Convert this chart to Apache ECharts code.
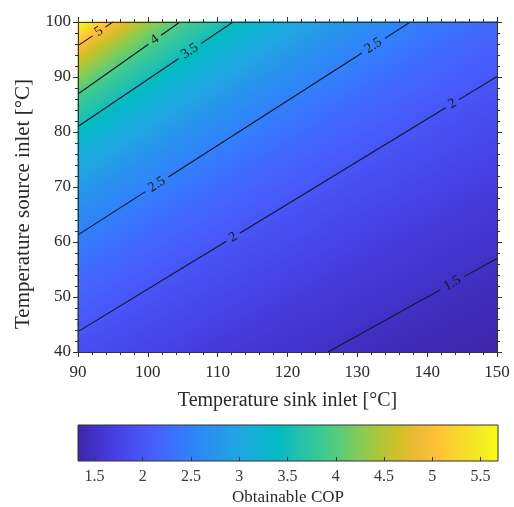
<!DOCTYPE html>
<html><head><meta charset="utf-8">
<script src="https://cdn.jsdelivr.net/npm/echarts@6/dist/echarts.min.js"></script>
<style>html,body{margin:0;padding:0;background:#fff}#c{width:514px;height:507px}</style>
</head><body><div id="c"></div>
<script>
// ---- data ----
const sinkTemps = [90, 95, 100, 105, 110, 115, 120, 125, 130, 135, 140, 145, 150];
const sourceTemps = [40, 45, 50, 55, 60, 65, 70, 75, 80, 85, 90, 95, 100];
// COP values, one row per source temperature (row 0 = 40 °C), columns = sink temperatures
const copGrid = [
  [1.90, 1.83, 1.76, 1.70, 1.64, 1.59, 1.55, 1.50, 1.47, 1.43, 1.39, 1.36, 1.33],
  [2.02, 1.93, 1.85, 1.79, 1.72, 1.67, 1.61, 1.57, 1.52, 1.48, 1.45, 1.41, 1.38],
  [2.14, 2.04, 1.96, 1.88, 1.81, 1.75, 1.69, 1.64, 1.59, 1.54, 1.50, 1.46, 1.43],
  [2.28, 2.17, 2.07, 1.98, 1.90, 1.83, 1.77, 1.71, 1.66, 1.61, 1.56, 1.52, 1.48],
  [2.45, 2.32, 2.20, 2.10, 2.01, 1.93, 1.86, 1.79, 1.73, 1.68, 1.63, 1.58, 1.54],
  [2.63, 2.48, 2.35, 2.23, 2.13, 2.04, 1.95, 1.88, 1.81, 1.75, 1.70, 1.65, 1.60],
  [2.85, 2.67, 2.51, 2.38, 2.26, 2.15, 2.06, 1.98, 1.90, 1.84, 1.77, 1.72, 1.67],
  [3.11, 2.89, 2.71, 2.55, 2.41, 2.29, 2.18, 2.09, 2.00, 1.93, 1.86, 1.80, 1.74],
  [3.42, 3.15, 2.93, 2.74, 2.58, 2.44, 2.32, 2.21, 2.11, 2.03, 1.95, 1.88, 1.82],
  [3.80, 3.47, 3.20, 2.97, 2.78, 2.61, 2.47, 2.35, 2.24, 2.14, 2.05, 1.97, 1.90],
  [4.27, 3.85, 3.51, 3.24, 3.01, 2.81, 2.65, 2.50, 2.38, 2.27, 2.17, 2.08, 2.00],
  [4.87, 4.33, 3.90, 3.56, 3.28, 3.05, 2.85, 2.68, 2.54, 2.41, 2.29, 2.19, 2.10],
  [5.68, 4.94, 4.39, 3.95, 3.61, 3.32, 3.09, 2.89, 2.72, 2.57, 2.44, 2.32, 2.22]
];
const cbTicks = [1.5, 2, 2.5, 3, 3.5, 4, 4.5, 5, 5.5];
// contour lines: level, start point, end point [sink, source], label positions (sink temp)
const contourLevels = [5, 4, 3.5, 2.5, 2, 1.5];
const contourStart = [[90, 95.7], [90, 86.9], [90, 81.0], [90, 61.3], [90, 43.7], [125.8, 40]];
const contourEnd = [[95, 100], [104.6, 100], [112.2, 100], [137.6, 100], [150, 90.1], [150, 57.0]];
const contourLabelX = [[93.0], [101.0], [106.0], [101.3, 132.3], [112.2, 143.6], [143.6]];

// ---- styling ----
const PARULA = ['#3e26a8','#4332cb','#4741e5','#4852f4','#4563fd','#3875fe','#2e87f7','#2796eb',
  '#20a5e3','#12b1d6','#02bac3','#24c1ae','#37c897','#57cc7a','#81cc59','#abc739','#d1bf27',
  '#f0ba36','#fec338','#fad62d','#f3e924','#f9fb15'];
const SERIF = '"Times New Roman","Liberation Serif",serif';
const TXT = '#2a2a2a';
const AXC = '#333';

const flat = copGrid.reduce((a, r) => a.concat(r), []);
const copMin = Math.min.apply(null, flat);
const copMax = Math.max.apply(null, flat);

const PRGB = PARULA.map(h => [parseInt(h.slice(1,3),16), parseInt(h.slice(3,5),16), parseInt(h.slice(5,7),16)]);
function cmap(v) {
  let t = (v - copMin) / (copMax - copMin);
  t = Math.max(0, Math.min(1, t));
  const f = t * (PRGB.length - 1);
  const i = Math.min(Math.floor(f), PRGB.length - 2);
  const r = f - i, a = PRGB[i], b = PRGB[i + 1];
  return 'rgb(' + [0,1,2].map(k => Math.round(a[k] + (b[k] - a[k]) * r)).join(',') + ')';
}

const cells = [];
for (let j = 0; j < sourceTemps.length - 1; j++) {
  for (let i = 0; i < sinkTemps.length - 1; i++) {
    cells.push([sinkTemps[i], sourceTemps[j], sinkTemps[i + 1], sourceTemps[j + 1],
      copGrid[j][i], copGrid[j][i + 1], copGrid[j + 1][i], copGrid[j + 1][i + 1]]);
  }
}

function triShape(P, V) {
  const dx1 = P[1][0] - P[0][0], dy1 = P[1][1] - P[0][1];
  const dx2 = P[2][0] - P[0][0], dy2 = P[2][1] - P[0][1];
  const dv1 = V[1] - V[0], dv2 = V[2] - V[0];
  const det = dx1 * dy2 - dx2 * dy1;
  const b = (dv1 * dy2 - dv2 * dy1) / det;
  const c = (dx1 * dv2 - dx2 * dv1) / det;
  const g = Math.hypot(b, c);
  let fill;
  if (!isFinite(g) || g < 1e-9) {
    fill = cmap(V[0]);
  } else {
    const nx = b / g, ny = c / g;
    const ts = P.map(p => (p[0] - P[0][0]) * nx + (p[1] - P[0][1]) * ny);
    const tmin = Math.min.apply(null, ts), tmax = Math.max.apply(null, ts);
    const N = 10, stops = [];
    for (let k = 0; k <= N; k++) {
      const t = tmin + (tmax - tmin) * k / N;
      stops.push({ offset: k / N, color: cmap(V[0] + g * t) });
    }
    fill = new echarts.graphic.LinearGradient(
      P[0][0] + nx * tmin, P[0][1] + ny * tmin, P[0][0] + nx * tmax, P[0][1] + ny * tmax, stops, true);
  }
  return { type: 'polygon', shape: { points: P }, style: { fill: fill, stroke: fill, lineWidth: 1.4, lineJoin: 'round' } };
}

const chart = echarts.init(document.getElementById('c'), null, { renderer: 'canvas' });

const axisCommon = {
  type: 'value', gridIndex: 0, z: 10,
  axisLine: { show: true, lineStyle: { color: AXC, width: 1 } },
  axisTick: { show: true, length: 5, lineStyle: { color: AXC } },
  minorTick: { show: true, splitNumber: 5, length: 3, lineStyle: { color: AXC } },
  splitLine: { show: false }, minorSplitLine: { show: false }
};

chart.setOption({
  animation: false,
  backgroundColor: '#fff',
  grid: [
    { left: 78, right: 17, top: 22, bottom: 155 },
    { left: 78, right: 16, top: 425, height: 37 }
  ],
  xAxis: [
    Object.assign({}, axisCommon, {
      position: 'bottom', min: 90, max: 150, interval: 10,
      axisLabel: { color: TXT, fontFamily: SERIF, fontSize: 17, margin: 12 },
      name: 'Temperature sink inlet [°C]', nameLocation: 'middle', nameGap: 39,
      nameTextStyle: { color: TXT, fontFamily: SERIF, fontSize: 20 }
    }),
    Object.assign({}, axisCommon, {
      position: 'top', min: 90, max: 150, interval: 10, axisLabel: { show: false }
    }),
    {
      type: 'value', gridIndex: 1, min: copMin, max: copMax, z: 10,
      axisLine: { show: false },
      axisTick: { show: true, inside: true, length: 4, customValues: cbTicks, lineStyle: { color: AXC } },
      axisLabel: { show: true, customValues: cbTicks, color: '#3a3a3a', fontFamily: SERIF, fontSize: 16, margin: 8 },
      splitLine: { show: false },
      name: 'Obtainable COP', nameLocation: 'middle', nameGap: 28,
      nameTextStyle: { color: TXT, fontFamily: SERIF, fontSize: 17 }
    }
  ],
  yAxis: [
    Object.assign({}, axisCommon, {
      position: 'left', min: 40, max: 100, interval: 10,
      axisLabel: { color: TXT, fontFamily: SERIF, fontSize: 17, margin: 7 },
      name: 'Temperature source inlet [°C]', nameLocation: 'middle', nameGap: 44,
      nameTextStyle: { color: TXT, fontFamily: SERIF, fontSize: 21, padding: [0, 34, 0, 0] }
    }),
    Object.assign({}, axisCommon, {
      position: 'right', min: 40, max: 100, interval: 10, axisLabel: { show: false }
    }),
    { type: 'value', gridIndex: 1, min: 0, max: 1, show: false }
  ],
  series: [
    {
      type: 'custom', xAxisIndex: 0, yAxisIndex: 0, z: 2,
      data: cells, encode: { x: [0, 2], y: [1, 3] },
      renderItem: function (params, api) {
        const p00 = api.coord([api.value(0), api.value(1)]);
        const p10 = api.coord([api.value(2), api.value(1)]);
        const p01 = api.coord([api.value(0), api.value(3)]);
        const p11 = api.coord([api.value(2), api.value(3)]);
        const v00 = api.value(4), v10 = api.value(5), v01 = api.value(6), v11 = api.value(7);
        return { type: 'group', children: [
          triShape([p00, p10, p11], [v00, v10, v11]),
          triShape([p00, p11, p01], [v00, v11, v01])
        ] };
      }
    },
    {
      type: 'custom', xAxisIndex: 0, yAxisIndex: 0, z: 4,
      data: contourStart.map((p, i) => [p[0], p[1], contourLevels[i]]),
      encode: { x: 0, y: 1 },
      renderItem: function (params, api) {
        const i = params.dataIndex;
        const s = contourStart[i], e = contourEnd[i];
        const p0 = api.coord(s), p1 = api.coord(e);
        const L = Math.hypot(p1[0] - p0[0], p1[1] - p0[1]);
        const ux = (p1[0] - p0[0]) / L, uy = (p1[1] - p0[1]) / L;
        const label = String(contourLevels[i]);
        const half = label.replace('.', '').length * 3.8 + (label.indexOf('.') >= 0 ? 2 : 0) + 4;
        const ang = Math.atan2(-(p1[1] - p0[1]), p1[0] - p0[0]);
        const ts = contourLabelX[i].map(lx => {
          const ly = s[1] + (lx - s[0]) * (e[1] - s[1]) / (e[0] - s[0]);
          const p = api.coord([lx, ly]);
          return (p[0] - p0[0]) * ux + (p[1] - p0[1]) * uy;
        }).sort((a, b) => a - b);
        const children = [];
        const seg = (a, b) => ({ type: 'line', shape: { x1: p0[0] + ux * a, y1: p0[1] + uy * a, x2: p0[0] + ux * b, y2: p0[1] + uy * b },
          style: { stroke: '#15152a', lineWidth: 1.1 } });
        let cur = 0;
        ts.forEach(t => {
          if (t - half > cur) children.push(seg(cur, t - half));
          children.push({ type: 'text', x: p0[0] + ux * t, y: p0[1] + uy * t, rotation: ang,
            style: { text: label, fill: '#1a1a1a', font: '14px ' + SERIF, align: 'center', verticalAlign: 'middle',
              textAlign: 'center', textVerticalAlign: 'middle' } });
          cur = t + half;
        });
        if (cur < L) children.push(seg(cur, L));
        return { type: 'group', children: children };
      }
    },
    {
      type: 'custom', xAxisIndex: 2, yAxisIndex: 2, z: 2,
      data: [[copMin, 0, copMax, 1]], encode: { x: [0, 2], y: [1, 3] },
      renderItem: function (params, api) {
        const a = api.coord([api.value(0), api.value(1)]);
        const b = api.coord([api.value(2), api.value(3)]);
        const stops = PARULA.map((c, k) => ({ offset: k / (PARULA.length - 1), color: c }));
        return { type: 'rect', shape: { x: a[0], y: b[1], width: b[0] - a[0], height: a[1] - b[1] },
          style: { fill: new echarts.graphic.LinearGradient(0, 0, 1, 0, stops), stroke: AXC, lineWidth: 1 } };
      }
    }
  ]
});
</script>
</body></html>
